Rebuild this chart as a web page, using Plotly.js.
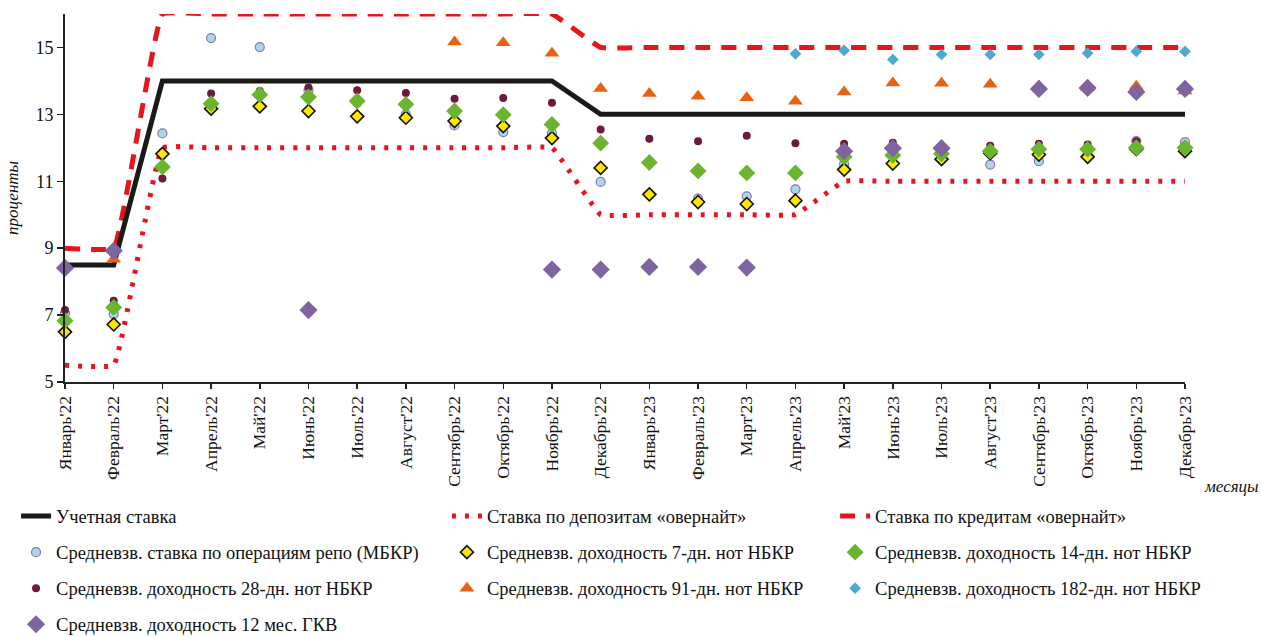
<!DOCTYPE html>
<html>
<head>
<meta charset="utf-8">
<script src="https://cdn.plot.ly/plotly-3.0.1.min.js"></script>
<style>html,body{margin:0;padding:0;background:#fff;}#chart{width:1261px;height:637px;}</style>
</head>
<body>
<div id="chart"></div>
<script>
const months = ["Январь'22","Февраль'22","Март'22","Апрель'22","Май'22","Июнь'22","Июль'22","Август'22","Сентябрь'22","Октябрь'22","Ноябрь'22","Декабрь'22","Январь'23","Февраль'23","Март'23","Апрель'23","Май'23","Июнь'23","Июль'23","Август'23","Сентябрь'23","Октябрь'23","Ноябрь'23","Декабрь'23"];

const policyRate  = [8.5,8.5,14,14,14,14,14,14,14,14,14,13,13,13,13,13,13,13,13,13,13,13,13,13];
const depositRate = [5.5,5.5,12,12,12,12,12,12,12,12,12,10,10,10,10,10,11,11,11,11,11,11,11,11];
const creditRate  = [9,9,16,16,16,16,16,16,16,16,16,15,15,15,15,15,15,15,15,15,15,15,15,15];

const repo    = [7.06,7.03,12.43,15.28,15.01,13.72,13.35,13.0,12.67,12.47,12.44,10.98,10.6,10.48,10.55,10.76,11.51,11.55,12.03,11.5,11.6,11.8,12.2,12.17];
const notes7  = [6.5,6.72,11.82,13.17,13.24,13.1,12.94,12.9,12.8,12.65,12.29,11.4,10.61,10.38,10.32,10.42,11.35,11.53,11.66,11.84,11.8,11.73,11.96,11.9];
const notes14 = [6.83,7.23,11.43,13.32,13.59,13.52,13.4,13.3,13.1,12.99,12.7,12.14,11.56,11.31,11.25,11.25,11.73,11.78,11.82,11.9,11.96,11.96,12.0,12.0];
const notes28 = [7.15,7.43,11.08,13.62,13.7,13.8,13.72,13.64,13.47,13.49,13.35,12.55,12.27,12.2,12.36,12.14,12.12,12.15,12.05,12.06,12.12,12.1,12.2,12.06];
const notes91 = [null,8.67,null,null,null,null,null,null,15.16,15.14,14.83,13.77,13.62,13.54,13.5,13.39,13.67,13.94,13.93,13.9,13.84,13.8,13.84,13.7];
const notes182 = [null,null,null,null,null,null,null,null,null,null,null,null,null,null,null,14.81,14.91,14.64,14.79,14.79,14.79,14.83,14.88,14.88];
const gkv12   = [8.41,8.92,null,null,null,7.15,null,null,null,null,8.36,8.36,8.44,8.44,8.42,null,11.9,11.99,11.99,null,13.76,13.79,13.67,13.76];

const names = {
  policy: "Учетная ставка",
  deposit: "Ставка по депозитам «овернайт»",
  credit: "Ставка по кредитам «овернайт»",
  repo: "Средневзв. ставка по операциям репо (МБКР)",
  n7: "Средневзв. доходность 7-дн. нот НБКР",
  n14: "Средневзв. доходность 14-дн. нот НБКР",
  n28: "Средневзв. доходность 28-дн. нот НБКР",
  n91: "Средневзв. доходность 91-дн. нот НБКР",
  n182: "Средневзв. доходность 182-дн. нот НБКР",
  gkv: "Средневзв. доходность 12 мес. ГКВ"
};

function line(y, name, legend, rank, lineStyle) {
  return {x: months, y: y, name: name, type: 'scatter', mode: 'lines', line: lineStyle,
    legend: legend, legendrank: rank, legendgroup: name, cliponaxis: false, hoverinfo: 'y'};
}
function pts(y, name, legend, rank, marker) {
  return {x: months, y: y, name: name, type: 'scatter', mode: 'markers', marker: marker,
    legend: legend, legendrank: rank, legendgroup: name, cliponaxis: false, hoverinfo: 'y'};
}

const traces = [
  line(depositRate, names.deposit, 'legend2', 1, {color: '#e8141c', width: 5, dash: '4px,9px', shape: 'spline', smoothing: 0.25}),
  line(creditRate, names.credit, 'legend3', 1, {color: '#e8141c', width: 5, dash: '15px,11px', shape: 'spline', smoothing: 0.25}),
  line(policyRate, names.policy, 'legend', 1, {color: '#1c1a17', width: 5}),
  pts(repo, names.repo, 'legend', 2, {symbol: 'circle', size: 9, color: '#a8d8e8', line: {color: '#8f72b8', width: 1.2}}),
  pts(notes28, names.n28, 'legend', 3, {symbol: 'circle', size: 8, color: '#6e1a3c'}),
  pts(notes7, names.n7, 'legend2', 2, {symbol: 'diamond', size: 10, color: '#ffe600', line: {color: '#111', width: 1.6}}),
  pts(notes14, names.n14, 'legend3', 2, {symbol: 'diamond', size: 13, color: '#6bb52e'}),
  pts(notes91, names.n91, 'legend2', 3, {symbol: 'triangle-up', size: 13, color: '#e8630f'}),
  pts(notes182, names.n182, 'legend3', 3, {symbol: 'diamond', size: 9, color: '#4eaacc'}),
  pts(gkv12, names.gkv, 'legend', 4, {symbol: 'diamond', size: 14, color: '#8064a2'})
];

const serif = 'Times New Roman';
const legendBase = {
  orientation: 'v', yanchor: 'top', xanchor: 'left', y: -0.314,
  font: {family: 'Liberation Serif', size: 18.5, color: '#111'},
  tracegroupgap: 9, bgcolor: 'rgba(0,0,0,0)', itemwidth: 30, traceorder: 'grouped'
};

const layout = {
  width: 1261, height: 637,
  margin: {l: 65, r: 76, t: 14, b: 255, autoexpand: false},
  paper_bgcolor: '#fff', plot_bgcolor: '#fff',
  showlegend: true,
  font: {family: serif, color: '#111'},
  xaxis: {
    type: 'category', range: [0, 23], showgrid: false, zeroline: false,
    showline: true, linecolor: '#222', linewidth: 2,
    ticks: 'outside', ticklen: 5, tickwidth: 1.5, tickcolor: '#222',
    tickangle: -90, tickfont: {family: serif, size: 17.5, color: '#111'}
  },
  yaxis: {
    range: [5, 16], tick0: 5, dtick: 2, showgrid: false, zeroline: false,
    showline: true, linecolor: '#222', linewidth: 2,
    ticks: 'outside', ticklen: 6, tickwidth: 1.5, tickcolor: '#222',
    tickfont: {family: serif, size: 18, color: '#111'},
    title: {text: '<i>проценты</i>', font: {family: serif, size: 17, color: '#111'}, standoff: 12}
  },
  legend: Object.assign({}, legendBase, {x: -0.0437}),
  legend2: Object.assign({}, legendBase, {x: 0.341}),
  legend3: Object.assign({}, legendBase, {x: 0.6876}),
  annotations: [{
    text: '<i>месяцы</i>', xref: 'paper', yref: 'paper', x: 1.068, y: -0.285,
    xanchor: 'right', yanchor: 'middle', showarrow: false,
    font: {family: serif, size: 17, color: '#111'}
  }]
};

Plotly.newPlot('chart', traces, layout, {displayModeBar: false, staticPlot: true});
</script>
</body>
</html>
